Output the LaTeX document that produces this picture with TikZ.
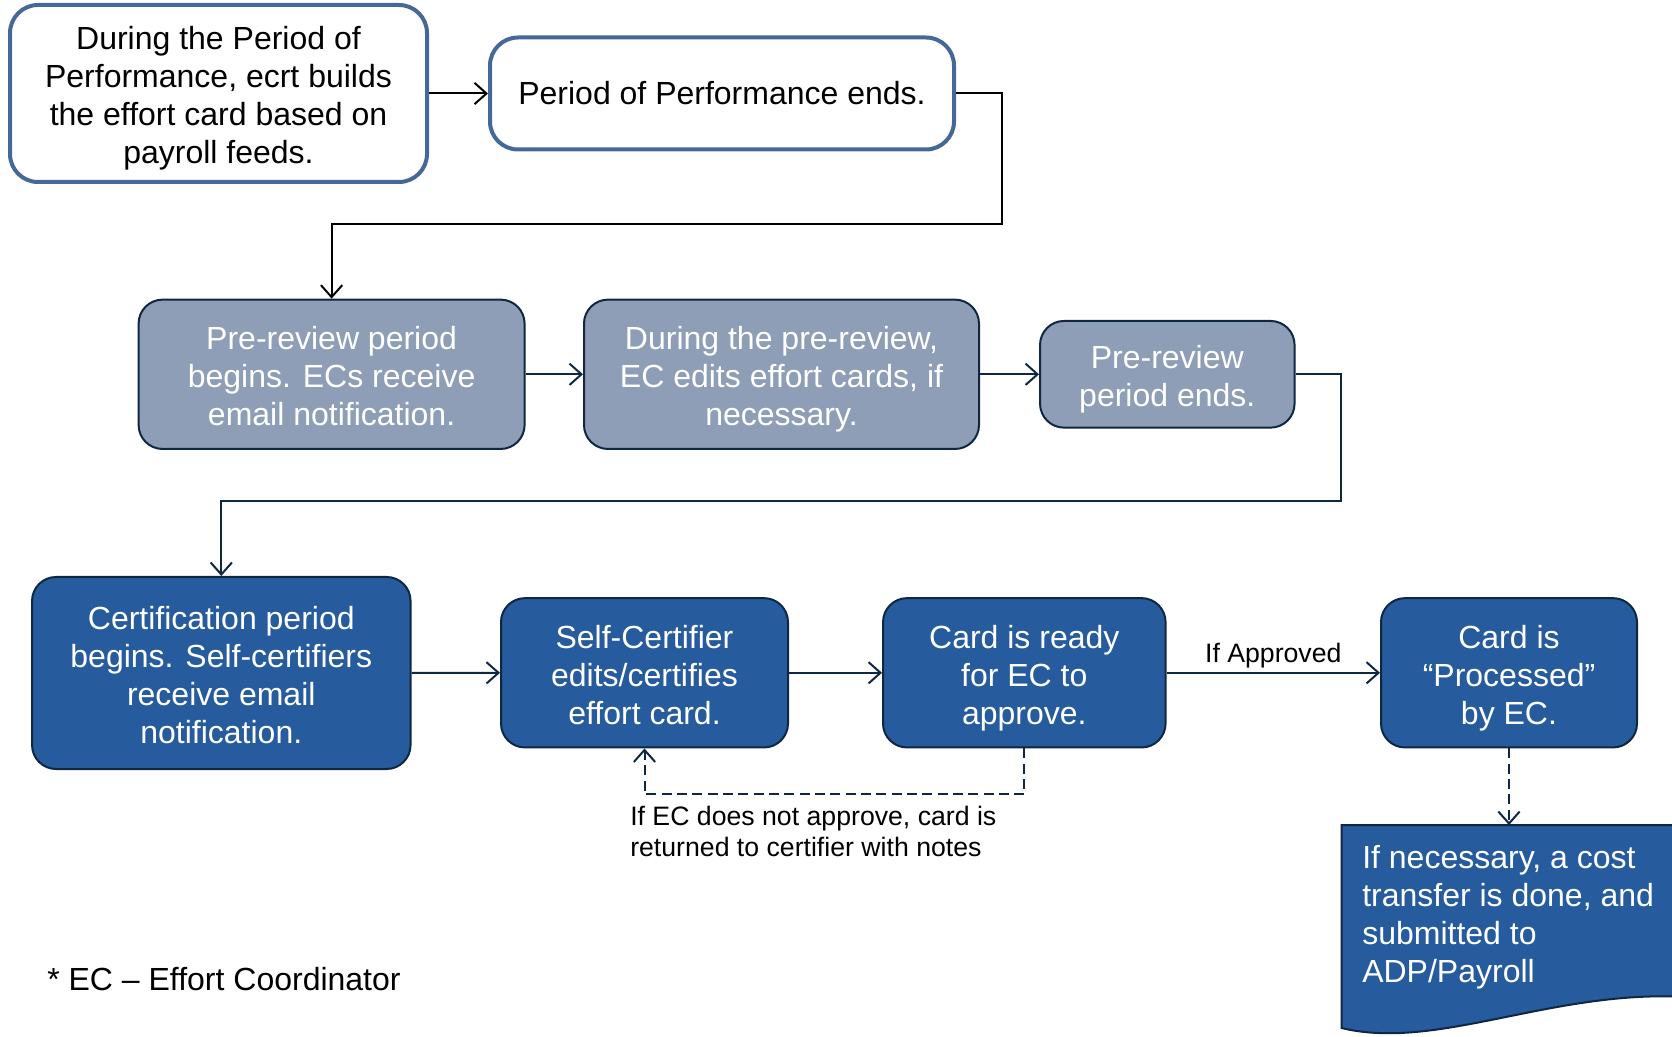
\documentclass[tikz,border=0pt]{standalone}
\usepackage{fontspec}
\setmainfont{Liberation Sans}
\usetikzlibrary{arrows.meta}
\definecolor{topedge}{RGB}{70,104,152}
\definecolor{grayfill}{RGB}{141,158,182}
\definecolor{navy}{RGB}{15,39,64}
\definecolor{bluefill}{RGB}{38,91,158}
\newcommand\myts{\rule{0pt}{25pt}}
\newcommand\mybs{\rule[-5.2pt]{0pt}{5.2pt}}
\begin{document}
\begin{tikzpicture}[x=0.75pt,y=-0.75pt,
  base/.style={rounded corners=18pt, align=center, inner sep=0pt, font=\fontsize{24}{28.5}\selectfont},
  topbox/.style={base, draw=topedge, line width=3pt, fill=white, text=black, rounded corners=21pt},
  graybox/.style={base, draw=navy, line width=1.5pt, fill=grayfill, text=white},
  bluebox/.style={base, draw=navy, line width=1.5pt, fill=bluefill, text=white},
  tip/.style={-{Straight Barb[length=9pt,width=16pt,line width=1.5pt]}},
  blackconn/.style={tip, line width=1.5pt, draw=black},
  conn/.style={tip, line width=1.5pt, draw=navy},
  dconn/.style={conn, dash pattern=on 7.5pt off 4pt},
  lbl/.style={inner sep=0pt, align=left, font=\fontsize{20}{23.25}\selectfont}
]
\useasboundingbox (0,0) rectangle (1672,1037);

% row 1
\node[topbox, minimum width=312.75pt, minimum height=132.75pt] (A) at (218.5,93.5)
  {\myts During the Period of\\Performance, ecrt builds\\the effort card based on\\payroll feeds.\mybs};
\node[topbox, minimum width=348pt, minimum height=84pt] (B) at (722,93.5)
  {Period of Performance ends.};

% row 2
\node[graybox, minimum width=289.5pt, minimum height=112pt] (C) at (331.6,374.3)
  {\myts Pre-review period\\begins. ECs receive\\email notification.\mybs};
\node[graybox, minimum width=296.25pt, minimum height=112pt] (D) at (781.5,374.3)
  {\myts During the pre-review,\\EC edits effort cards, if\\necessary.\mybs};
\node[graybox, minimum width=190.9pt, minimum height=80pt] (E) at (1167.3,374.3)
  {\myts Pre-review\\period ends.\mybs};

% row 3
\node[bluebox, minimum width=283.9pt, minimum height=144pt] (F) at (221.3,673)
  {\myts Certification period\\begins. Self-certifiers\\receive email\\notification.\mybs};
\node[bluebox, minimum width=215.25pt, minimum height=112pt] (G) at (644.5,672.8)
  {\myts Self-Certifier\\edits/certifies\\effort card.\mybs};
\node[bluebox, minimum width=211.9pt, minimum height=112pt] (H) at (1024.3,672.8)
  {\myts Card is ready\\for EC to\\approve.\mybs};
\node[bluebox, minimum width=192pt, minimum height=112pt] (I) at (1509,672.8)
  {\myts Card is\\“Processed”\\by EC.\mybs};

% document shape
\path[fill=bluefill, draw=navy, line width=1.5pt]
  (1700,825) -- (1341.5,825) -- (1341.5,1028)
  .. controls (1440,1052) and (1560,985) .. (1700,998) -- cycle;
\node[inner sep=0pt, align=left, text=white, anchor=west,
      font=\fontsize{24}{28.5}\selectfont] (J) at (1362,917)
  {If necessary, a cost\\transfer is done, and\\submitted to\\ADP/Payroll};
\coordinate (Jtop) at (1509,825);

% connectors
\draw[blackconn] (A.east) -- (B.west);
\coordinate (b1) at (1002,93.5);
\coordinate (b2) at (1002,224);
\draw[blackconn] (B.east) -- (b1) -- (b2) -| (C.north);

\draw[conn] (C.east) -- (D.west);
\draw[conn] (D.east) -- (E.west);
\coordinate (e1) at (1341.4,374.3);
\coordinate (e2) at (1341.4,501);
\draw[conn] (E.east) -- (e1) -- (e2) -| (F.north);

\draw[conn] (F.east) -- (G.west);
\draw[conn] (G.east) -- (H.west);
\draw[conn] (H.east) -- node[lbl, above=2.5pt] (ap) {If Approved} (I.west);

\coordinate (h1) at (1024.3,794.4);
\draw[dconn] (H.south) -- (h1) -| (G.south);
\draw[dconn] (I.south) -- (Jtop);

\node[lbl, anchor=west] (ret) at (630,831)
  {If EC does not approve, card is\\returned to certifier with notes};

\node[inner sep=0pt, anchor=west, font=\fontsize{24}{28.5}\selectfont] (note) at (47,979)
  {* EC – Effort Coordinator};
\end{tikzpicture}
\end{document}
